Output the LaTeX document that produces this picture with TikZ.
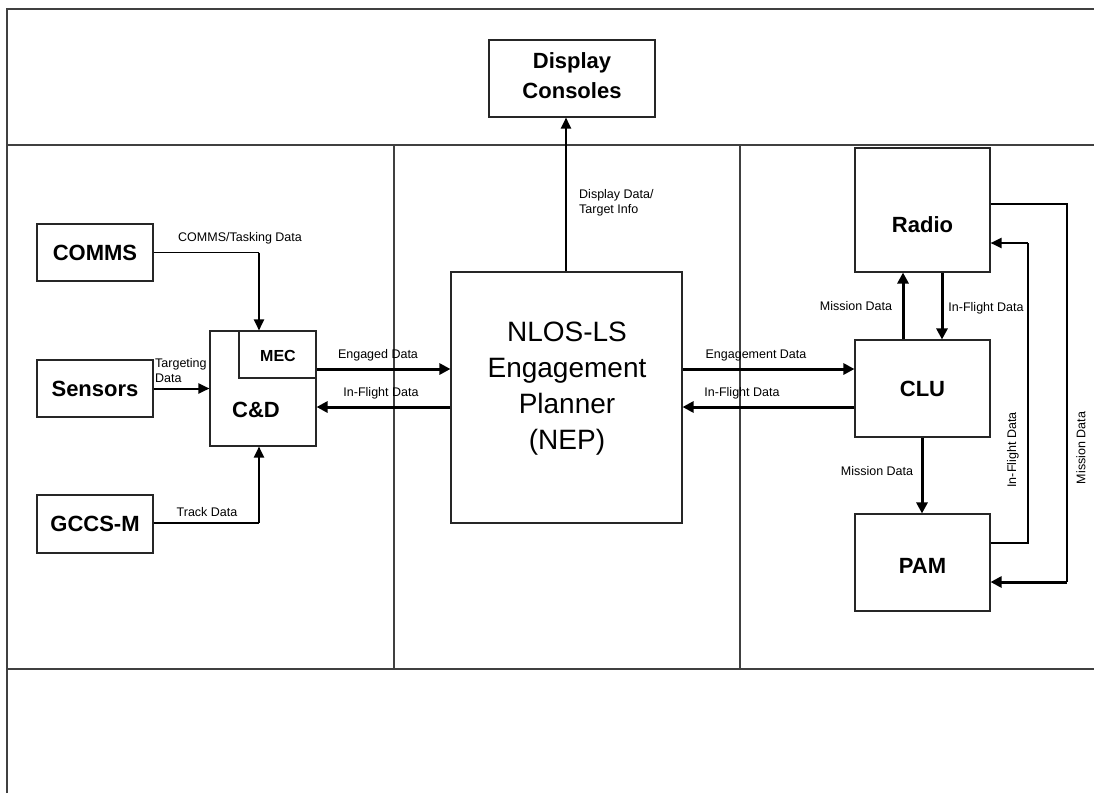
\documentclass[tikz,border=0pt]{standalone}
\usepackage{fontspec}
\setmainfont{Liberation Sans}
\usetikzlibrary{arrows.meta,calc}
\begin{document}
\begin{tikzpicture}[x=1pt,y=-1pt,
  frame/.style={draw=black!75,line width=1.2pt},
  box/.style={draw=black!85,line width=1.1pt,inner sep=0pt},
  big/.style={font=\fontsize{22}{26}\selectfont\bfseries,inner sep=0pt},
  lbl/.style={font=\fontsize{12.5}{15}\selectfont,inner sep=0pt},
  thinline/.style={line width=1.2pt},
  medarrow/.style={line width=2pt,-{Triangle[length=11pt,width=10pt]}},
  bigarrow/.style={line width=3pt,-{Triangle[length=11pt,width=11pt]}},
]
\useasboundingbox (0,0) rectangle (1094,793);
% frame
\draw[frame] (7,793) -- (7,9) -- (1094,9);
\draw[frame] (7,145) -- (1094,145);
\draw[frame] (7,669) -- (1094,669);
\draw[frame] (394,145) -- (394,669);
\draw[frame] (740,145) -- (740,669);

% boxes
\node[box,minimum width=166pt,minimum height=77pt] (disp) at (572,78.5) {};
\node[big,align=center,font=\fontsize{22}{30}\selectfont\bfseries] (displbl) at (572,76) {Display\\Consoles};
\node[box,minimum width=116pt,minimum height=57pt] (comms) at (95,252.5) {};
\node[big] (commslbl) at (95,252.5) {COMMS};
\node[box,minimum width=116pt,minimum height=57pt] (sensors) at (95,388.5) {};
\node[big] (sensorslbl) at (95,388.5) {Sensors};
\node[box,minimum width=116pt,minimum height=58pt] (gccs) at (95,524) {};
\node[big] (gccslbl) at (95,524) {GCCS-M};
\node[box,minimum width=106pt,minimum height=115pt] (cd) at (263,388.5) {};
\node[big] (cdlbl) at (256,410) {C\&D};
\node[box,minimum width=77pt,minimum height=47pt] (mec) at (277.5,354.5) {};
\node[font=\fontsize{16}{18}\selectfont\bfseries,inner sep=0pt] (meclbl) at (278,356) {MEC};
\node[box,minimum width=231pt,minimum height=251pt] (nep) at (566.5,397.5) {};
\node[align=center,font=\fontsize{28}{36}\selectfont,inner sep=0pt] (neplbl) at (567,389) {NLOS-LS\\Engagement\\Planner\\(NEP)};
\node[box,minimum width=135pt,minimum height=124pt] (radio) at (922.5,210) {};
\node[big] (radiolbl) at (922.5,225) {Radio};
\node[box,minimum width=135pt,minimum height=97pt] (clu) at (922.5,388.5) {};
\node[big] (clulbl) at (922.5,389) {CLU};
\node[box,minimum width=135pt,minimum height=97pt] (pam) at (922.5,562.5) {};
\node[big] (pamlbl) at (922.5,566) {PAM};

% helper coordinates
\coordinate (yE) at (0,369);
\coordinate (yI) at (0,407);
\coordinate (c1) at (259,252.5);
\coordinate (g1) at (259,523);
\coordinate (xMr) at (903,0);
\coordinate (xIr) at (942,0);
\coordinate (xMp) at (922,0);
\coordinate (pa1) at (1028,543);
\coordinate (pa2) at (1028,243);
\coordinate (rb1) at (1067,204);
\coordinate (rb2) at (1067,582);

% left connectors
\draw[thinline] (comms.east) -- (c1);
\draw[medarrow] (c1) -- (c1 |- mec.north);
\draw[medarrow] (sensors.east) -- (cd.west);
\draw[thinline] (gccs.east |- g1) -- (g1);
\draw[medarrow] (g1) -- (g1 |- cd.south);

% center connectors
\draw[bigarrow] (mec.east |- yE) -- (nep.west |- yE);
\draw[bigarrow] (nep.west |- yI) -- (cd.east |- yI);
\draw[medarrow] (nep.north -| 566,0) -- (disp.south -| 566,0);
\draw[bigarrow] (nep.east |- yE) -- (clu.west |- yE);
\draw[bigarrow] (clu.west |- yI) -- (nep.east |- yI);

% right connectors
\draw[bigarrow] (clu.north -| xMr) -- (radio.south -| xMr);
\draw[bigarrow] (radio.south -| xIr) -- (clu.north -| xIr);
\draw[bigarrow] (clu.south -| xMp) -- (pam.north -| xMp);
\draw[thinline] (pam.east |- pa1) -- (pa1) -- (pa2);
\draw[medarrow] (pa2) -- (radio.east |- pa2);
\draw[thinline] (radio.east |- rb1) -- (rb1) -- (rb2);
\draw[bigarrow] (rb2) -- (pam.east |- rb2);

% labels
\node[lbl] (l1) at (240,238) {COMMS/Tasking Data};
\node[lbl,align=left,anchor=west] (l2) at (155,371) {Targeting\\Data};
\node[lbl] (l3) at (207,512) {Track Data};
\node[lbl] (l4) at (378,355) {Engaged Data};
\node[lbl] (l5) at (381,393) {In-Flight Data};
\node[lbl,align=left,anchor=west] (l6) at (579,203) {Display Data/\\Target Info};
\node[lbl] (l7) at (756,355) {Engagement Data};
\node[lbl] (l8) at (742,393) {In-Flight Data};
\node[lbl] (l9) at (856,306) {Mission Data};
\node[lbl] (l10) at (986,308) {In-Flight Data};
\node[lbl] (l11) at (877,471) {Mission Data};
\node[lbl,rotate=90] (l12) at (1013,450) {In-Flight Data};
\node[lbl,rotate=90] (l13) at (1081,448) {Mission Data};
\end{tikzpicture}
\end{document}
